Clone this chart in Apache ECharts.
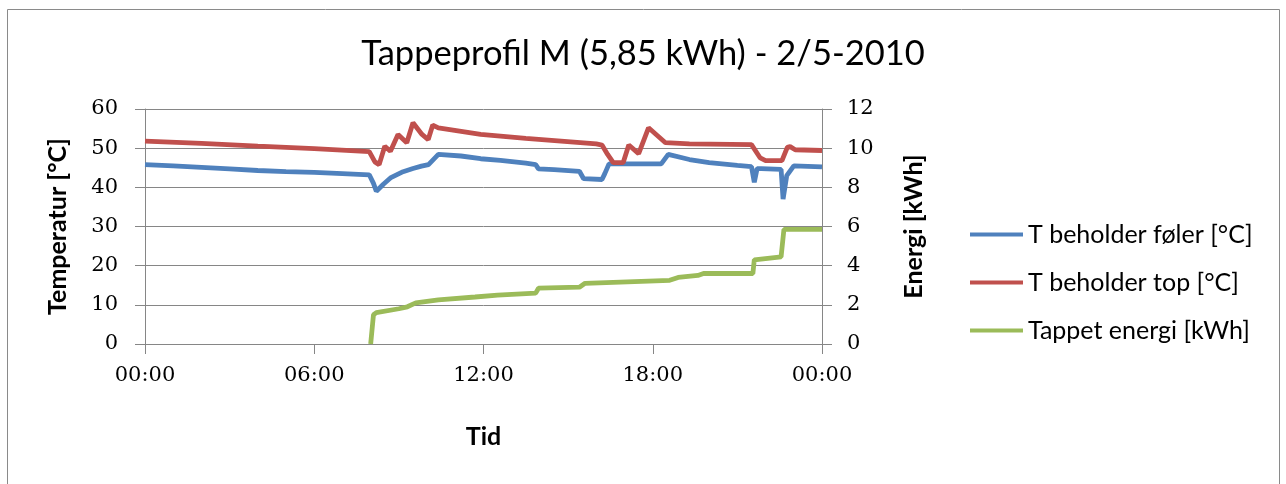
<!DOCTYPE html>
<html>
<head>
<meta charset="utf-8">
<script src="https://cdn.jsdelivr.net/npm/echarts@6/dist/echarts.min.js"></script>
<style>
  html, body { margin: 0; padding: 0; background: #fff; }
  #chart { width: 1286px; height: 484px; }
</style>
</head>
<body>
<div id="chart"></div>
<script>
  // tid i timer (0-24) og målte værdier
  const foelerHours = [0, 1, 2, 3, 4, 5, 6, 7, 7.95, 8.1, 8.2, 8.45, 8.7, 9.15, 9.5, 9.8, 10.05, 10.4, 11.2, 11.9, 12.6, 13.5, 13.85, 13.95, 14.5, 15.4, 15.55, 16.2, 16.3, 16.45, 18.3, 18.55, 19.3, 20.0, 21.0, 21.5, 21.6, 21.7, 21.85, 22.55, 22.62, 22.75, 23.0, 24.0];
  const foelerTemp  = [45.8, 45.5, 45.1, 44.7, 44.3, 44.0, 43.8, 43.5, 43.2, 41.0, 39.0, 40.8, 42.4, 44.0, 44.8, 45.4, 45.8, 48.4, 48.0, 47.3, 46.9, 46.2, 45.8, 44.7, 44.5, 44.1, 42.2, 42.0, 43.5, 46.0, 46.0, 48.4, 47.1, 46.3, 45.6, 45.3, 41.3, 44.8, 44.8, 44.6, 37.0, 43.0, 45.5, 45.2];

  const topHours = [0, 2, 4, 6, 7.95, 8.15, 8.3, 8.5, 8.7, 8.97, 9.28, 9.5, 9.82, 10.04, 10.2, 10.4, 11.9, 13.5, 16.0, 16.2, 16.4, 16.6, 16.95, 17.15, 17.5, 17.85, 18.45, 19.3, 21.5, 21.81, 22.0, 22.58, 22.77, 22.87, 23.05, 24.0];
  const topTemp  = [51.8, 51.2, 50.5, 49.9, 49.1, 46.5, 45.8, 50.5, 49.2, 53.5, 51.4, 56.5, 53.5, 52.2, 55.9, 55.2, 53.5, 52.5, 51.1, 50.8, 48.4, 46.3, 46.3, 50.8, 48.6, 55.2, 51.4, 51.1, 50.9, 47.5, 46.8, 46.8, 50.2, 50.4, 49.6, 49.4];

  const energiHours = [8.0, 8.1, 8.2, 9.0, 9.3, 9.6, 10.4, 11.7, 12.5, 13.85, 13.95, 15.4, 15.6, 18.6, 18.9, 19.6, 19.8, 21.55, 21.6, 22.55, 22.65, 24.0];
  const energiKwh   = [0, 1.5, 1.6, 1.8, 1.9, 2.1, 2.25, 2.4, 2.5, 2.6, 2.85, 2.9, 3.1, 3.25, 3.4, 3.5, 3.6, 3.6, 4.3, 4.45, 5.85, 5.85];

  const seriesNames = ['T beholder føler [°C]', 'T beholder top [°C]', 'Tappet energi [kWh]'];

  function pairs(xs, ys) {
    return xs.map(function (x, i) { return [x, ys[i]]; });
  }

  const gray = '#868686';
  const serif = 'DejaVu Serif';
  const sans = 'Lato';
  const nameStyle = { fontFamily: sans, fontSize: 25, fontWeight: 'bold', color: '#000' };

  let myChart = echarts.init(document.getElementById('chart'));
  myChart.setOption({
    animation: false,
    color: ['#4F81BD', '#C0504D', '#9BBB59'],
    title: {
      text: 'Tappeprofil M (5,85 kWh) - 2/5-2010',
      left: 'center',
      top: 31,
      textStyle: { fontFamily: sans, fontSize: 34.5, fontWeight: 'normal', color: '#000' }
    },
    legend: {
      data: seriesNames,
      orient: 'vertical',
      left: 970,
      top: 222,
      padding: 0,
      icon: 'rect',
      itemWidth: 53,
      itemHeight: 4,
      itemGap: 23,
      textStyle: { fontFamily: sans, fontSize: 25, color: '#000', lineHeight: 25 }
    },
    grid: { left: 145, right: 464, top: 109, bottom: 140 },
    xAxis: {
      type: 'value',
      min: 0,
      max: 24,
      interval: 6,
      name: 'Tid',
      nameLocation: 'middle',
      nameGap: 80,
      nameTextStyle: nameStyle,
      axisLine: { lineStyle: { color: gray } },
      axisTick: { show: true, length: 10, lineStyle: { color: gray } },
      axisLabel: {
        margin: 21,
        fontFamily: serif, fontSize: 21, color: '#000',
        formatter: function (v) {
          let h = v % 24;
          return (h < 10 ? '0' + h : h) + ':00';
        }
      },
      splitLine: { show: false }
    },
    yAxis: [
      {
        type: 'value',
        min: 0,
        max: 60,
        interval: 10,
        name: 'Temperatur [°C]',
        nameLocation: 'middle',
        nameGap: 75,
        nameTextStyle: nameStyle,
        axisLine: { show: true, lineStyle: { color: gray } },
        axisTick: { show: true, length: 10, lineStyle: { color: gray } },
        axisLabel: { margin: 27, fontFamily: serif, fontSize: 21, color: '#000' },
        splitLine: { lineStyle: { color: gray, width: 1 } }
      },
      {
        type: 'value',
        min: 0,
        max: 12,
        interval: 2,
        position: 'right',
        name: 'Energi [kWh]',
        nameLocation: 'middle',
        nameGap: 79,
        nameTextStyle: nameStyle,
        axisLine: { show: true, lineStyle: { color: gray } },
        axisTick: { show: true, length: 10, lineStyle: { color: gray } },
        axisLabel: { margin: 25, fontFamily: serif, fontSize: 21, color: '#000' },
        splitLine: { show: false }
      }
    ],
    graphic: [{
      type: 'rect',
      shape: { x: 7.5, y: 9.5, width: 1272, height: 520 },
      style: { fill: 'none', stroke: '#8a8a8a', lineWidth: 1 },
      silent: true
    }],
    series: [
      {
        name: seriesNames[0],
        type: 'line',
        yAxisIndex: 0,
        showSymbol: false,
        lineStyle: { width: 4.8 },
        data: pairs(foelerHours, foelerTemp)
      },
      {
        name: seriesNames[1],
        type: 'line',
        yAxisIndex: 0,
        showSymbol: false,
        lineStyle: { width: 4.8 },
        data: pairs(topHours, topTemp)
      },
      {
        name: seriesNames[2],
        type: 'line',
        yAxisIndex: 1,
        showSymbol: false,
        lineStyle: { width: 4.8 },
        data: pairs(energiHours, energiKwh)
      }
    ]
  });
</script>
</body>
</html>
